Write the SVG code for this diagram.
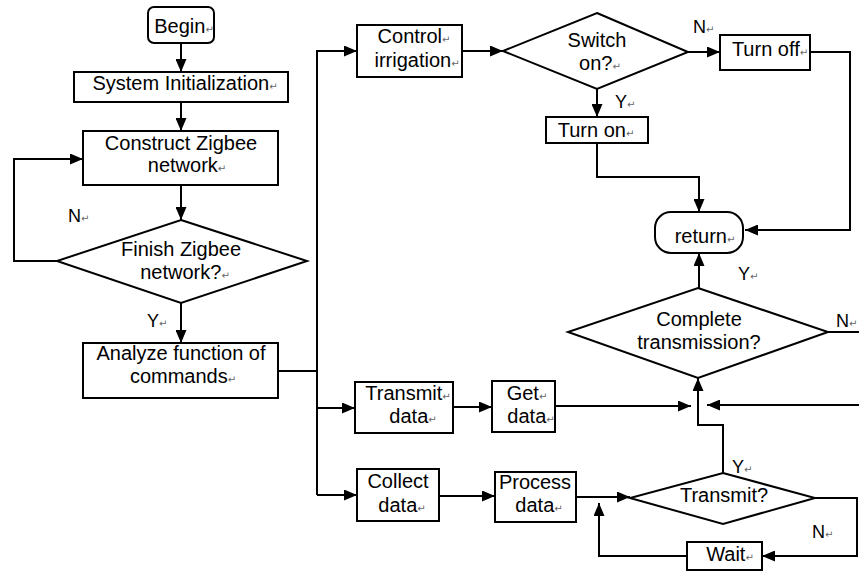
<svg xmlns="http://www.w3.org/2000/svg" width="859" height="571" viewBox="0 0 859 571">
<defs>
<marker id="ah" markerWidth="13" markerHeight="11" refX="13" refY="5.5" orient="auto" markerUnits="userSpaceOnUse"><path d="M0,0 L13,5.5 L0,11 z" fill="#000"/></marker>
<style>
.box{fill:#fff;stroke:#000;stroke-width:2}
.t{font-family:"Liberation Sans",Arial,sans-serif;font-size:20px;fill:#000;text-anchor:middle}
.l{font-family:"Liberation Sans",Arial,sans-serif;font-size:18px;fill:#000}
.m{font-family:"DejaVu Sans",sans-serif;font-size:10px;fill:#666}
.c{fill:none;stroke:#000;stroke-width:2}
.a{marker-end:url(#ah)}
</style>
</defs>
<rect width="859" height="571" fill="#fff"/>
<g id="connectors">
<path class="c a" d="M181,43 V72"/>
<path class="c a" d="M181,102 V131"/>
<path class="c a" d="M181,185 V220"/>
<path class="c a" d="M57,261 H14 V159 H83"/>
<path class="c a" d="M181,303 V343"/>
<path class="c" d="M278,371 H317"/>
<path class="c a" d="M317,495 V51 H357"/>
<path class="c a" d="M317,408 H355"/>
<path class="c a" d="M317,495 H357"/>
<path class="c a" d="M462,51 H503"/>
<path class="c a" d="M688,52 H720"/>
<path class="c a" d="M597,89 V117"/>
<path class="c a" d="M597,143 V177 H699 V212"/>
<path class="c a" d="M810,52 H850 V230 H745"/>
<path class="c a" d="M699,288 V253"/>
<path class="c" d="M828,332 H859"/>
<path class="c a" d="M453,407 H492"/>
<path class="c a" d="M555,406 H691"/>
<path class="c a" d="M859,405 H707"/>
<path class="c a" d="M723,473 V425 H698 V378"/>
<path class="c a" d="M439,496 H495"/>
<path class="c a" d="M576,497 H630"/>
<path class="c a" d="M815,498 H857 V556 H762"/>
<path class="c a" d="M687,556 H599 V503"/>
</g>
<g id="labels">
<text class="l" x="68" y="222">N<tspan class="m">↵</tspan></text>
<text class="l" x="147" y="327">Y<tspan class="m">↵</tspan></text>
<text class="l" x="693" y="33">N<tspan class="m">↵</tspan></text>
<text class="l" x="615" y="108">Y<tspan class="m">↵</tspan></text>
<text class="l" x="738" y="280">Y<tspan class="m">↵</tspan></text>
<text class="l" x="836" y="327">N<tspan class="m">↵</tspan></text>
<text class="l" x="732" y="473">Y<tspan class="m">↵</tspan></text>
<text class="l" x="812" y="538">N<tspan class="m">↵</tspan></text>
</g>
<g id="begin"><rect class="box" x="148" y="7" width="66" height="36" rx="6"/><text class="t" x="184" y="33">Begin<tspan class="m">↵</tspan></text></g>
<g id="sysinit"><rect class="box" x="74" y="72" width="214" height="30"/><text class="t" x="185" y="90">System Initialization<tspan class="m">↵</tspan></text></g>
<g id="construct"><rect class="box" x="83" y="131" width="195" height="54"/><text class="t" x="181" y="150">Construct Zigbee</text><text class="t" x="187" y="172">network<tspan class="m">↵</tspan></text></g>
<g id="finish"><polygon class="box" points="181,220 307,261 181,303 57,261"/><text class="t" x="181" y="256">Finish Zigbee</text><text class="t" x="185" y="279">network?<tspan class="m">↵</tspan></text></g>
<g id="analyze"><rect class="box" x="83" y="343" width="195" height="55"/><text class="t" x="181" y="360">Analyze function of</text><text class="t" x="183" y="383">commands<tspan class="m">↵</tspan></text></g>
<g id="control"><rect class="box" x="357" y="25" width="105" height="52"/><text class="t" x="414" y="43">Control<tspan class="m">↵</tspan></text><text class="t" x="417" y="67">irrigation<tspan class="m">↵</tspan></text></g>
<g id="switch"><polygon class="box" points="597,13 688,52 597,89 503,51"/><text class="t" x="597" y="47">Switch</text><text class="t" x="600" y="70">on?<tspan class="m">↵</tspan></text></g>
<g id="turnoff"><rect class="box" x="720" y="35" width="90" height="35"/><text class="t" x="770" y="56">Turn off<tspan class="m">↵</tspan></text></g>
<g id="turnon"><rect class="box" x="546" y="117" width="102" height="26"/><text class="t" x="596" y="137">Turn on<tspan class="m">↵</tspan></text></g>
<g id="return"><rect class="box" x="655" y="212" width="88" height="41" rx="16"/><text class="t" x="705" y="243">return<tspan class="m">↵</tspan></text></g>
<g id="complete"><polygon class="box" points="698,288 828,332 698,378 568,332"/><text class="t" x="699" y="326">Complete</text><text class="t" x="699" y="349">transmission?</text></g>
<g id="transmitdata"><rect class="box" x="355" y="382" width="98" height="51"/><text class="t" x="408" y="400">Transmit<tspan class="m">↵</tspan></text><text class="t" x="413" y="423">data<tspan class="m">↵</tspan></text></g>
<g id="getdata"><rect class="box" x="492" y="381" width="63" height="51"/><text class="t" x="527" y="400">Get<tspan class="m">↵</tspan></text><text class="t" x="531" y="423">data<tspan class="m">↵</tspan></text></g>
<g id="collect"><rect class="box" x="357" y="469" width="82" height="52"/><text class="t" x="398" y="488">Collect</text><text class="t" x="402" y="512">data<tspan class="m">↵</tspan></text></g>
<g id="process"><rect class="box" x="495" y="472" width="81" height="50"/><text class="t" x="535" y="489">Process</text><text class="t" x="539" y="512">data<tspan class="m">↵</tspan></text></g>
<g id="transmitq"><polygon class="box" points="723,473 815,498 723,524 630,498"/><text class="t" x="724" y="502">Transmit?</text></g>
<g id="wait"><rect class="box" x="687" y="542" width="75" height="28"/><text class="t" x="730" y="561">Wait<tspan class="m">↵</tspan></text></g>
</svg>
